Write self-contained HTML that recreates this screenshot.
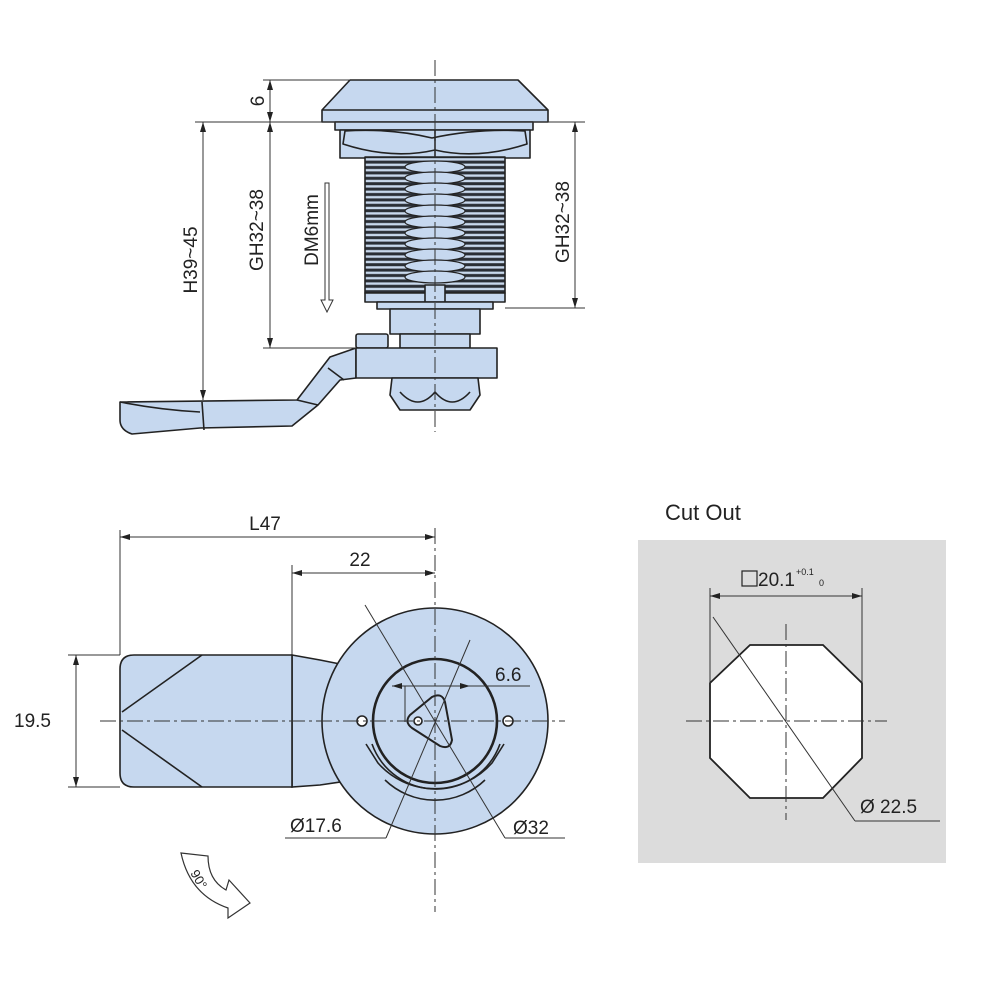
<!DOCTYPE html>
<html><head><meta charset="utf-8"><style>
html,body{margin:0;padding:0;background:#fff}
svg{display:block}
text{font-family:"Liberation Sans",sans-serif;fill:#222}
</style></head><body>
<svg width="1000" height="1000" viewBox="0 0 1000 1000" xmlns="http://www.w3.org/2000/svg">
<defs>
<pattern id="thr" x="0" y="157" width="10" height="5.4" patternUnits="userSpaceOnUse">
<rect width="10" height="5.4" fill="#2a2e35"/>
<rect y="1.2" width="10" height="2.4" fill="#c8d8ec"/>
</pattern>
<marker id="ar" viewBox="0 0 10 6" refX="10" refY="3" markerWidth="10" markerHeight="6" orient="auto-start-reverse" markerUnits="userSpaceOnUse">
<path d="M0,0 L10,3 L0,6 z" fill="#222"/>
</marker>
</defs>
<g stroke="#222" stroke-width="1.6" fill="#c6d8ef" stroke-linejoin="round">
<path d="M350,80 L518,80 L548,110 L548,122 L322,122 L322,110 Z"/>
<line x1="322" y1="110" x2="548" y2="110"/>
<rect x="335" y="122" width="198" height="8"/>
<path d="M340,130 L530,130 L530,158 L340,158 Z"/>
<path d="M345,131 Q390,128 432,138 Q478,128 525,131 L527,144 Q478,160 435,150 Q392,160 343,144 Z" fill="#c6d8ef"/>
<line x1="435" y1="130" x2="435" y2="158"/>
<rect x="365" y="157" width="140" height="136" fill="url(#thr)"/>
<g fill="#c6d8ef" stroke-width="1.2">
<ellipse cx="435" cy="167" rx="30" ry="6"/><ellipse cx="435" cy="178" rx="30" ry="6"/>
<ellipse cx="435" cy="189" rx="30" ry="6"/><ellipse cx="435" cy="200" rx="30" ry="6"/>
<ellipse cx="435" cy="211" rx="30" ry="6"/><ellipse cx="435" cy="222" rx="30" ry="6"/>
<ellipse cx="435" cy="233" rx="30" ry="6"/><ellipse cx="435" cy="244" rx="30" ry="6"/>
<ellipse cx="435" cy="255" rx="30" ry="6"/><ellipse cx="435" cy="266" rx="30" ry="6"/>
<ellipse cx="435" cy="277" rx="30" ry="6"/>
</g>
<rect x="365" y="293" width="140" height="9"/>
<rect x="425" y="285" width="20" height="17"/>
<rect x="377" y="302" width="116" height="7"/>
<rect x="390" y="309" width="90" height="25"/>
<rect x="400" y="334" width="70" height="14"/>
<rect x="356" y="334" width="32" height="14" rx="2"/>
<path d="M120,402 L297,400 L330,357 L356,348 L356,378 L340,380 L318,405 L292,426 L200,428 L132,434 Q120,430 120,420 Z"/>
<line x1="202" y1="402" x2="204" y2="430"/>
<line x1="297" y1="400" x2="318" y2="405"/>
<line x1="328" y1="368" x2="344" y2="380"/>
<path d="M120,402 Q160,410 200,412" fill="none"/>
<rect x="356" y="348" width="141" height="30"/>
<path d="M392,378 L478,378 L480,395 L470,410 L400,410 L390,395 Z"/>
<path d="M400,392 Q418,412 435,392 Q452,412 470,392" fill="none"/>
</g>
<g stroke="#333" stroke-width="1" fill="none">
<line x1="435" y1="60" x2="435" y2="432" stroke-dasharray="16,4,3,4"/>
<line x1="263" y1="80" x2="350" y2="80"/>
<line x1="195" y1="122" x2="585" y2="122"/>
<line x1="263" y1="348" x2="356" y2="348"/>
<line x1="505" y1="308" x2="585" y2="308"/>
<line x1="270" y1="80" x2="270" y2="122" marker-start="url(#ar)" marker-end="url(#ar)"/>
<line x1="203" y1="122" x2="203" y2="400" marker-start="url(#ar)" marker-end="url(#ar)"/>
<line x1="270" y1="122" x2="270" y2="348" marker-start="url(#ar)" marker-end="url(#ar)"/>
<line x1="575" y1="122" x2="575" y2="308" marker-start="url(#ar)" marker-end="url(#ar)"/>
<path d="M325,183 L329,183 L329,300 L333,300 L327,312 L321,300 L325,300 Z" fill="#fff"/>
</g>
<g font-size="19">
<text transform="translate(264,101) rotate(-90)" text-anchor="middle">6</text>
<text transform="translate(197,260) rotate(-90)" text-anchor="middle">H39~45</text>
<text transform="translate(263,230) rotate(-90)" text-anchor="middle">GH32~38</text>
<text transform="translate(318,230) rotate(-90)" text-anchor="middle">DM6mm</text>
<text transform="translate(569,222) rotate(-90)" text-anchor="middle">GH32~38</text>
</g>
<g stroke="#222" stroke-width="1.6" fill="#c6d8ef">
<path d="M292,655 L320,660 L340,664 L340,782 L320,785 L292,787 Z"/>
<path d="M134,655 L292,655 L292,787 L134,787 Q120,787 120,773 L120,669 Q120,655 134,655 Z"/>
<path d="M202,655 L122,712 M122,730 L202,787" fill="none"/>
<circle cx="435" cy="721" r="113"/>
<circle cx="435" cy="721" r="62" stroke-width="2.6"/>
<path d="M372,744 A68,68 0 0 0 500,744" fill="none"/>
<path d="M366,744 L378,763 A76,76 0 0 0 492,763 L504,744" fill="none"/>
<path d="M385,780 A72,72 0 0 0 485,780" fill="none"/>
<path d="M410,715 L432,697 Q442,692 445,702 L452,740 Q450,750 440,746 L412,728 Q404,722 410,715 Z" stroke-width="2"/>
<circle cx="418" cy="721" r="4" fill="#fff"/>
<circle cx="362" cy="721" r="5" fill="#fff"/>
<circle cx="508" cy="721" r="5" fill="#fff"/>
</g>
<g stroke="#333" stroke-width="1" fill="none">
<line x1="100" y1="721" x2="565" y2="721" stroke-dasharray="16,4,3,4"/>
<line x1="435" y1="528" x2="435" y2="912" stroke-dasharray="16,4,3,4"/>
<line x1="120" y1="530" x2="120" y2="655"/>
<line x1="292" y1="565" x2="292" y2="655"/>
<line x1="120" y1="537" x2="435" y2="537" marker-start="url(#ar)" marker-end="url(#ar)"/>
<line x1="292" y1="573" x2="435" y2="573" marker-start="url(#ar)" marker-end="url(#ar)"/>
<line x1="68" y1="655" x2="120" y2="655"/>
<line x1="68" y1="787" x2="120" y2="787"/>
<line x1="76" y1="655" x2="76" y2="787" marker-start="url(#ar)" marker-end="url(#ar)"/>
<line x1="405" y1="686" x2="405" y2="722"/>
<line x1="392" y1="686" x2="530" y2="686"/>
<line x1="392" y1="686" x2="405" y2="686" marker-start="url(#ar)"/>
<line x1="435" y1="686" x2="470" y2="686" marker-end="url(#ar)"/>
<line x1="365" y1="605" x2="505" y2="838"/>
<line x1="505" y1="838" x2="565" y2="838"/>
<line x1="470" y1="640" x2="386" y2="838"/>
<line x1="386" y1="838" x2="285" y2="838"/>
</g>
<g font-size="19">
<text x="265" y="530" text-anchor="middle">L47</text>
<text x="360" y="566" text-anchor="middle">22</text>
<text x="14" y="727">19.5</text>
<text x="495" y="681">6.6</text>
<text x="290" y="832">Ø17.6</text>
<text x="513" y="834">Ø32</text>
</g>
<path d="M181,853 L208,856 Q208,880 226,890 L229,880 L250,903 L228,918 L228,908 Q190,895 181,853 Z" fill="#fff" stroke="#333" stroke-width="1.2"/>
<text transform="translate(190,873) rotate(60)" font-size="13">90°</text>
<text x="665" y="520" font-size="22">Cut Out</text>
<rect x="638" y="540" width="308" height="323" fill="#dcdcdc"/>
<path d="M750,645 L823,645 L862,683 L862,758 L823,798 L750,798 L710,758 L710,683 Z" fill="#fff" stroke="#222" stroke-width="1.8"/>
<g stroke="#333" stroke-width="1" fill="none">
<line x1="686" y1="721" x2="887" y2="721" stroke-dasharray="16,4,3,4"/>
<line x1="786" y1="624" x2="786" y2="820" stroke-dasharray="16,4,3,4"/>
<line x1="710" y1="588" x2="710" y2="683"/>
<line x1="862" y1="588" x2="862" y2="683"/>
<line x1="710" y1="596" x2="862" y2="596" marker-start="url(#ar)" marker-end="url(#ar)"/>
<line x1="713" y1="617" x2="855" y2="821"/>
<line x1="855" y1="821" x2="940" y2="821"/>
</g>
<rect x="742" y="571" width="15" height="15" fill="none" stroke="#222" stroke-width="1.2"/>
<text x="758" y="586" font-size="19">20.1</text>
<text x="796" y="575" font-size="9">+0.1</text>
<text x="819" y="586" font-size="9">0</text>
<text x="860" y="813" font-size="19">Ø 22.5</text>
</svg>
</body></html>
